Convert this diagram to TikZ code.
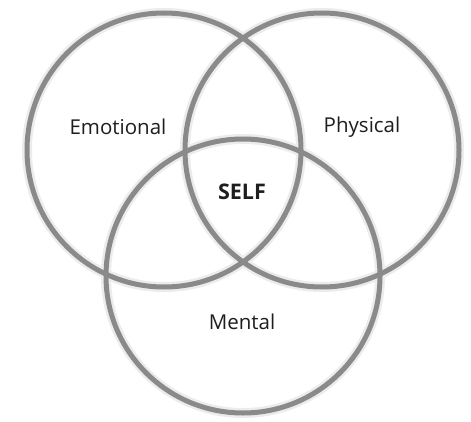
\documentclass[tikz,border=0pt]{standalone}
\usepackage{fontspec}
\setmainfont{Open Sans}
\usepackage{tikz}
\definecolor{RingGray}{RGB}{138,138,138}
\definecolor{GlowGray}{RGB}{236,236,236}
\definecolor{InkBlack}{RGB}{30,30,30}

\begin{document}
\begin{tikzpicture}[x=1pt, y=1pt,
  glow/.style={circle, draw=GlowGray, line width=10pt, inner sep=0pt, minimum size=274pt},
  ring/.style={circle, draw=RingGray, line width=5pt, inner sep=0pt, minimum size=274pt},
  lbl/.style={font=\fontsize{20.5}{23}\selectfont, text=InkBlack}
]
  \useasboundingbox (0,0) rectangle (471,421);
  % soft halo under the rings
  \foreach \pos in {(164,271),(322,271),(243,145)}
    \node[glow] at \pos {};

  \node[ring] (emotional) at (164,271) {};
  \node[ring] (physical) at (322,271) {};
  \node[ring] (mental) at (243,145) {};

  \node[lbl] (emotext) at (118,294) {Emotional};
  \node[lbl] (phystext) at (362,294) {Physical};
  \node[lbl, font=\fontsize{21.5}{24}\selectfont\bfseries] (self) at (242,229) {SELF};
  \node[lbl] (menttext) at (242,99) {Mental};
\end{tikzpicture}
\end{document}
